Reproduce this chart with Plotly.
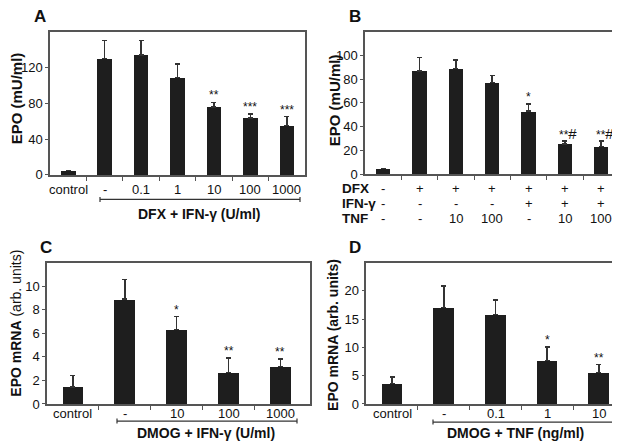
import plotly.graph_objects as go

# ---------------- data ----------------
a_labels = ["control", "-", "0.1", "1", "10", "100", "1000"]
a_values = [5, 130, 134, 109, 76, 63.5, 55]
a_err_top = [5, 150, 150, 124, 81, 68, 65]
a_sig = ["", "", "", "", "**", "***", "***"]
a_yticks = [0, 40, 80, 120]

b_dfx = ["-", "+", "+", "+", "+", "+", "+"]
b_ifn = ["-", "-", "-", "-", "+", "+", "+"]
b_tnf = ["-", "-", "10", "100", "-", "10", "100"]
b_values = [5, 87, 89, 77, 53, 25.5, 23.5]
b_err_top = [5, 98, 96, 83, 59, 28, 28]
b_sig = ["", "", "", "", "*", "**#", "**#"]
b_yticks = [0, 20, 40, 60, 80, 100]

c_labels = ["control", "-", "10", "100", "1000"]
c_values = [1.45, 8.9, 6.33, 2.67, 3.19]
c_err_top = [2.42, 10.56, 7.42, 3.89, 3.81]
c_sig = ["", "", "*", "**", "**"]
c_yticks = [0, 2, 4, 6, 8, 10]

d_labels = ["control", "-", "0.1", "1", "10"]
d_values = [3.65, 17.1, 15.8, 7.7, 5.6]
d_err_top = [4.75, 20.9, 18.4, 10.1, 6.96]
d_sig = ["", "", "", "*", "**"]
d_yticks = [0, 5, 10, 15, 20]

FONT = "Liberation Sans, Arial, sans-serif"
BAR = "#1e1e1e"
AX = "#555555"
W, H = 620, 441

fig = go.Figure()

panels = [
    # key, values, errtop, sig, labels, xdomain(px), ydomain(px top,bottom), xmax, yrange, yticks, label y(px)
    ("", a_values, a_err_top, a_sig, a_labels, (42, 297), (24, 170), 6.5, (0, 160), a_yticks, 185),
    ("2", b_values, b_err_top, b_sig, None, (357, 615), (24, 169.3), 6.6, (0, 120), b_yticks, None),
    ("3", c_values, c_err_top, c_sig, c_labels, (39, 302), (259.3, 403.3), 4.57, (0, 12), c_yticks, 413),
    ("4", d_values, d_err_top, d_sig, d_labels, (358.3, 616.7), (259.3, 403.3), 4.5, (0, 25), d_yticks, 412.5),
]

annotations = []
shapes = []

for key, vals, errtop, sig, labs, (x0, x1), (yt, yb), xmax, yr, yt_vals, ly in panels:
    n = len(vals)
    xs = list(range(n))
    plus = [max(e - v, 0) for e, v in zip(errtop, vals)]
    fig.add_trace(go.Bar(
        x=xs, y=vals, width=0.4, marker=dict(color=BAR, line=dict(width=0)),
        error_y=dict(type="data", symmetric=False, array=plus,
                     arrayminus=[0] * n, color="#333333", thickness=1.5, width=2.5),
        xaxis="x" + key, yaxis="y" + key, showlegend=False,
    ))
    fig.update_layout(**{
        "xaxis" + key: dict(
            domain=[x0 / W, x1 / W], anchor="y" + key, range=[-0.5, xmax],
            tickmode="array", tickvals=[], ticks="", showgrid=False,
            zeroline=False, showline=True, linecolor=AX, linewidth=1.5,
            mirror=True,
            minor=dict(tickmode="array", tickvals=[i + 0.5 for i in range(n - 1)],
                       ticks="outside", ticklen=4, tickcolor=AX, tickwidth=1,
                       showgrid=False),
        ),
        "yaxis" + key: dict(
            domain=[1 - yb / H, 1 - yt / H], anchor="x" + key, range=list(yr),
            tickmode="array", tickvals=yt_vals, ticks="outside", ticklen=3,
            tickcolor=AX, showgrid=False, zeroline=False, showline=True,
            linecolor=AX, linewidth=1.5, mirror=True,
            tickfont=dict(family=FONT, size=13, color="#111"),
        ),
    })
    if labs:
        for i, t in enumerate(labs):
            annotations.append(dict(x=i, y=1 - ly / H, xref="x" + key, yref="paper",
                                    text=t, showarrow=False,
                                    font=dict(family=FONT, size=13, color="#111"),
                                    xanchor="center", yanchor="middle"))
    for i, s in enumerate(sig):
        if s:
            if "#" in s:
                txt = s.replace("#", "<span style='font-size:15px'>#</span>")
                annotations.append(dict(
                    x=i + 0.1, y=errtop[i], xref="x" + key, yref="y" + key,
                    text=txt, showarrow=False, yanchor="bottom", yshift=-3,
                    font=dict(family=FONT, size=12, color="#111")))
            else:
                annotations.append(dict(
                    x=i, y=errtop[i], xref="x" + key, yref="y" + key,
                    text=s, showarrow=False, yanchor="bottom", yshift=-2,
                    font=dict(family=FONT, size=12, color="#111")))

# Panel letters
for txt, x, y in [("A", 31.5, 9), ("B", 347, 9), ("C", 37.5, 244), ("D", 346.5, 244)]:
    annotations.append(dict(x=x / W, y=1 - y / H, xref="paper", yref="paper",
                            text="<b>%s</b>" % txt, showarrow=False,
                            font=dict(family=FONT, size=17, color="#111"),
                            xanchor="center", yanchor="middle"))

# Y titles
for txt, x, y, size in [("<b>EPO (mU/ml)</b>", 8, 92, 15),
                        ("<b>EPO (mU/ml)</b>", 326, 94, 15),
                        ("<b>EPO mRNA</b> (arb. units)", 8.5, 321, 14),
                        ("<b>EPO mRNA (arb. units)</b>", 325, 333, 14)]:
    annotations.append(dict(x=x / W, y=1 - y / H, xref="paper", yref="paper",
                            text=txt, textangle=-90, showarrow=False,
                            font=dict(family=FONT, size=size, color="#111"),
                            xanchor="center", yanchor="middle"))

# Bracket lines and group labels
for bx0, bx1, by, label, lx, ly in [
    (92, 292, 195, "<b>DFX + IFN-γ (U/ml)</b>", 191, 210),
    (109, 289, 420.7, "<b>DMOG + IFN-γ (U/ml)</b>", 198, 433),
    (425, 606, 421.7, "<b>DMOG + TNF (ng/ml)</b>", 507, 432.5),
]:
    shapes.append(dict(type="line", xref="paper", yref="paper",
                       x0=bx0 / W, x1=bx1 / W, y0=1 - by / H, y1=1 - by / H,
                       line=dict(color="#333", width=1.2)))
    for bx in (bx0, bx1):
        shapes.append(dict(type="line", xref="paper", yref="paper",
                           x0=bx / W, x1=bx / W, y0=1 - (by - 2.5) / H,
                           y1=1 - (by + 2.5) / H, line=dict(color="#333", width=1.2)))
    annotations.append(dict(x=lx / W, y=1 - ly / H, xref="paper", yref="paper",
                            text=label, showarrow=False,
                            font=dict(family=FONT, size=14, color="#111"),
                            xanchor="center", yanchor="middle"))

# Panel B treatment table
for name, row, ry in [("DFX", b_dfx, 184), ("IFN-γ", b_ifn, 199.5), ("TNF", b_tnf, 214)]:
    annotations.append(dict(x=333 / W, y=1 - ry / H, xref="paper", yref="paper",
                            text="<b>%s</b>" % name, showarrow=False,
                            font=dict(family=FONT, size=13.5, color="#111"),
                            xanchor="left", yanchor="middle", borderpad=0))
    for i, v in enumerate(row):
        annotations.append(dict(x=i, y=1 - ry / H, xref="x2", yref="paper",
                                text=v, showarrow=False,
                                font=dict(family=FONT, size=13, color="#111"),
                                xanchor="center", yanchor="middle", borderpad=0))

fig.update_layout(
    width=W, height=H, margin=dict(l=0, r=0, t=0, b=0),
    paper_bgcolor="white", plot_bgcolor="white",
    annotations=annotations, shapes=shapes, bargap=0,
    font=dict(family=FONT, color="#111"),
)

fig.write_html("out.html")
